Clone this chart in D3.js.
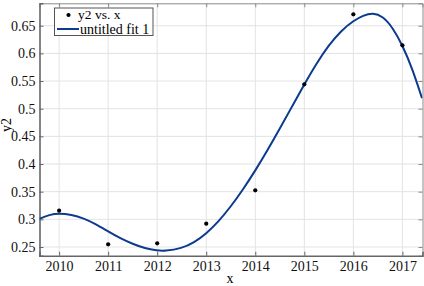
<!DOCTYPE html>
<html><head><meta charset="utf-8">
<script src="https://cdn.jsdelivr.net/npm/d3@7"></script>
<style>html,body{margin:0;padding:0;background:#fff;}svg{display:block;}</style>
</head><body>
<script>
const years = [2010, 2011, 2012, 2013, 2014, 2015, 2016, 2017];
const y2 = [0.3156, 0.2549, 0.2567, 0.2921, 0.3525, 0.5440, 0.6706, 0.6146];
const fitX = [2009.6, 2009.8, 2010.0, 2010.25, 2010.5, 2010.75, 2011.0, 2011.25, 2011.5, 2011.75, 2012.0, 2012.15, 2012.5, 2012.75, 2013.0, 2013.25, 2013.5, 2013.75, 2014.0, 2014.25, 2014.5, 2014.75, 2015.0, 2015.25, 2015.5, 2015.75, 2016.0, 2016.2, 2016.4, 2016.6, 2016.8, 2017.0, 2017.2, 2017.4];
const fitY = [0.301, 0.3085, 0.311, 0.3085, 0.302, 0.2915, 0.278, 0.2655, 0.2555, 0.2475, 0.2435, 0.2425, 0.2475, 0.258, 0.274, 0.296, 0.323, 0.354, 0.388, 0.425, 0.464, 0.504, 0.544, 0.582, 0.615, 0.641, 0.659, 0.6685, 0.6735, 0.667, 0.647, 0.615, 0.573, 0.519];
const xTicks = [2010, 2011, 2012, 2013, 2014, 2015, 2016, 2017];
const yTicks = [0.25, 0.3, 0.35, 0.4, 0.45, 0.5, 0.55, 0.6, 0.65];
const yTickLabels = ["0.25", "0.3", "0.35", "0.4", "0.45", "0.5", "0.55", "0.6", "0.65"];
const legendLabels = ["y2 vs. x", "untitled fit 1"];

const W = 424, H = 286;
const L = 39.5, R = 422.5, T = 3.3, B = 255.7;
const font = "'Liberation Serif','Times New Roman',serif";
const svg = d3.select("body").append("svg").attr("width", W).attr("height", H);

const x = d3.scaleLinear().domain([2009.6, 2017.41]).range([L, R]);
const y = d3.scaleLinear().domain([0.2343, 0.6905]).range([B, T]);

// grid
const g = svg.append("g");
g.selectAll("line.gx").data(xTicks).enter().append("line")
  .attr("x1", d => x(d)).attr("x2", d => x(d)).attr("y1", T).attr("y2", B)
  .attr("stroke", "#e3e3e3").attr("stroke-width", 1);
g.selectAll("line.gy").data(yTicks).enter().append("line")
  .attr("y1", d => y(d)).attr("y2", d => y(d)).attr("x1", L).attr("x2", R)
  .attr("stroke", "#e3e3e3").attr("stroke-width", 1);

// axes
const xAxisB = d3.axisBottom(x).tickValues(xTicks).tickSize(-4).tickPadding(5.5).tickFormat(d3.format("d"));
const xAxisT = d3.axisTop(x).tickValues(xTicks).tickSize(-4).tickFormat("");
const yAxisL = d3.axisLeft(y).tickValues(yTicks).tickSize(-4).tickPadding(4).tickFormat((d, i) => yTickLabels[i]);
const yAxisR = d3.axisRight(y).tickValues(yTicks).tickSize(-4).tickFormat("");

function style(sel, col, w) {
  sel.attr("font-family", font);
  sel.select(".domain").attr("stroke", col).attr("stroke-width", w);
  sel.selectAll(".tick line").attr("stroke", col).attr("stroke-width", 1);
  sel.selectAll("text").attr("font-family", font).attr("font-size", 14).attr("fill", "#111");
}
svg.append("g").attr("transform", `translate(0,${T})`).call(xAxisT).call(s => style(s, "#8a8a8a", 1));
svg.append("g").attr("transform", `translate(${R},0)`).call(yAxisR).call(s => style(s, "#8a8a8a", 1));
svg.append("g").attr("transform", `translate(0,${B})`).call(xAxisB).call(s => style(s, "#666", 1.6));
svg.append("g").attr("transform", `translate(${L},0)`).call(yAxisL).call(s => style(s, "#666", 1.6));

// fit curve
svg.append("clipPath").attr("id", "c").append("rect")
  .attr("x", L).attr("y", T).attr("width", R - L).attr("height", B - T);
const line = d3.line().x(d => x(d[0])).y(d => y(d[1])).curve(d3.curveBasis);
svg.append("path").attr("clip-path", "url(#c)")
  .datum(fitX.map((v, i) => [v, fitY[i]]))
  .attr("d", line).attr("fill", "none").attr("stroke", "#0b3a8f").attr("stroke-width", 2);

// points
svg.selectAll("circle.p").data(years).enter().append("circle")
  .attr("cx", d => x(d)).attr("cy", (d, i) => y(y2[i])).attr("r", 2.1).attr("fill", "#000");

// axis labels
svg.append("text").attr("x", 230).attr("y", 283).attr("text-anchor", "middle")
  .attr("font-family", font).attr("font-size", 14).text("x");
svg.append("text").attr("transform", "translate(11,125) rotate(-90)").attr("text-anchor", "middle")
  .attr("font-family", font).attr("font-size", 14).text("y2");

// legend
const lg = svg.append("g");
lg.append("rect").attr("x", 54.5).attr("y", 8).attr("width", 98.5).attr("height", 27.5)
  .attr("fill", "#fff").attr("stroke", "#555").attr("stroke-width", 1);
lg.append("circle").attr("cx", 68.5).attr("cy", 15).attr("r", 2.1).attr("fill", "#000");
lg.append("text").attr("x", 78).attr("y", 18.8).attr("font-family", font).attr("font-size", 13.5).text(legendLabels[0]);
lg.append("line").attr("x1", 57).attr("x2", 79).attr("y1", 29).attr("y2", 29)
  .attr("stroke", "#0b3a8f").attr("stroke-width", 2);
lg.append("text").attr("x", 80).attr("y", 34.3).attr("font-family", font).attr("font-size", 14).text(legendLabels[1]);
</script>
</body></html>
